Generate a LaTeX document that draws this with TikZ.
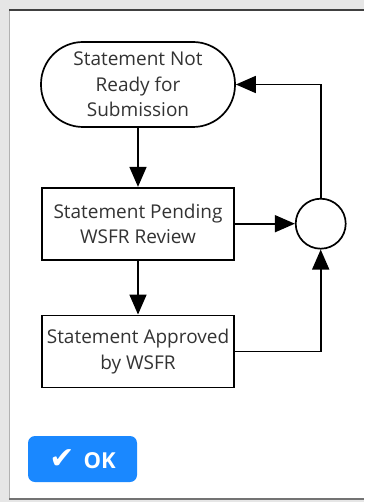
\documentclass[tikz,border=0pt]{standalone}
\usepackage{fontspec}
\setmainfont{Open Sans}
\newfontfamily\checkfont{DejaVu Sans}
\usepackage{xcolor}
\definecolor{wsfrink}{HTML}{333333}
\definecolor{wsfrblue}{HTML}{1A88FF}
\definecolor{wsfredge}{HTML}{E6E6E6}
\usetikzlibrary{arrows.meta,positioning}
\tikzset{
  wsfrstate/.style={draw,line width=1.7pt,rectangle,rounded corners=42pt,minimum width=194pt,minimum height=85pt,align=center,font=\fontsize{19}{25.5}\selectfont,text=wsfrink,inner sep=0pt},
  wsfrbox/.style={draw,line width=1.7pt,minimum width=192pt,minimum height=72pt,align=center,font=\fontsize{19}{25.5}\selectfont,text=wsfrink,inner sep=0pt},
  wsfrjunc/.style={draw,line width=1.7pt,circle,minimum size=50pt,inner sep=0pt},
  wsfrflow/.style={-{Triangle[length=20pt,width=17pt]},line width=1.7pt},
  wsfrok/.style={fill=wsfrblue,rounded corners=7pt,minimum width=109pt,minimum height=46pt,text=white,font=\fontsize{22}{24}\selectfont\bfseries,inner sep=0pt},
}
\begin{document}
\begin{tikzpicture}[x=1pt,y=-1pt]
\useasboundingbox (0,0) rectangle (364,502);
\fill[wsfredge] (0,0) rectangle (364,502);
\fill[white] (9,11) rectangle (364,498);
\draw[gray!60,line width=1pt] (9,11) -- (9,498);
\draw[black!75,line width=2.5pt] (9,10) -- (364,10);
\draw[black!55,line width=2pt] (9,499) -- (364,499);
\node[wsfrstate] (ready) at (138,84.5) {Statement Not\\Ready for\\Submission};
\node[wsfrbox,below=59pt of ready] (pending) {Statement Pending\\WSFR Review};
\node[wsfrbox,below=54pt of pending] (approved) {Statement Approved\\by WSFR};
\node[wsfrjunc,right=60pt of pending] (merge) {};
\draw[wsfrflow] (ready) -- (pending);
\draw[wsfrflow] (pending) -- (approved);
\draw[wsfrflow] (pending) -- (merge);
\draw[wsfrflow] (approved.east) -| (merge.south);
\draw[wsfrflow] (merge.north) |- (ready.east);
\node[wsfrok] (ok) at (82.5,459) {{\checkfont\fontsize{30}{30}\selectfont ✔}\hspace{9pt}OK};
\end{tikzpicture}
\end{document}
